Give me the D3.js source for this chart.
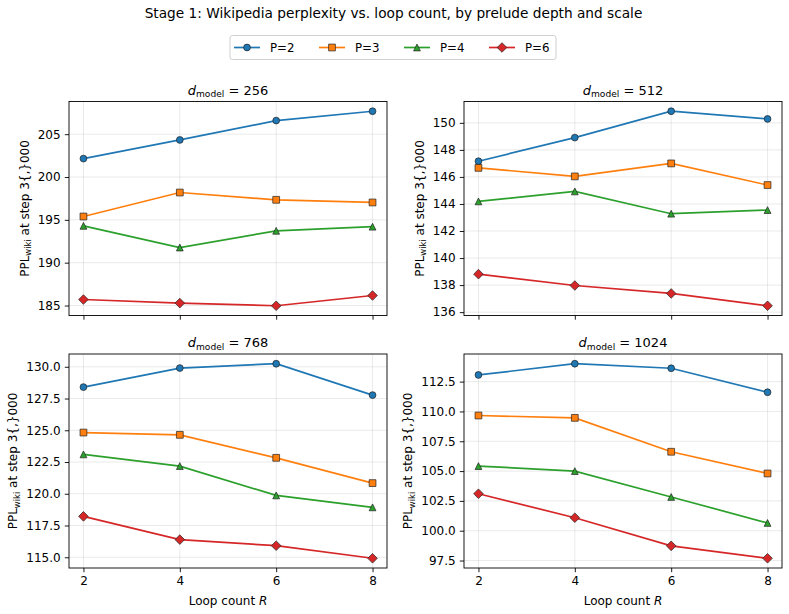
<!DOCTYPE html>
<html><head><meta charset="utf-8">
<script src="https://cdn.jsdelivr.net/npm/d3@7"></script>
<style>
body{margin:0;background:#fff}
svg text{font-family:"DejaVu Sans",sans-serif;fill:#000}
</style>
</head><body><svg id="c" width="789" height="614"></svg>
<script>
// ---- data ----
const loopCounts = [2, 4, 6, 8];
const seriesNames = ["P=2", "P=3", "P=4", "P=6"];
const seriesColors = ["#1f77b4", "#ff7f0e", "#2ca02c", "#d62728"];
const seriesMarkers = ["circle", "square", "triangle", "diamond"];
const dModels = [256, 512, 768, 1024];

const ppl256 = [
  [202.15, 204.33, 206.59, 207.68],
  [195.39, 198.19, 197.34, 197.03],
  [194.30, 191.77, 193.72, 194.20],
  [185.70, 185.28, 184.97, 186.17]
];
const ppl512 = [
  [147.16, 148.91, 150.86, 150.29],
  [146.67, 146.04, 147.00, 145.40],
  [144.19, 144.93, 143.28, 143.55],
  [138.81, 137.97, 137.38, 136.47]
];
const ppl768 = [
  [128.40, 129.90, 130.24, 127.77],
  [124.82, 124.64, 122.83, 120.84],
  [123.10, 122.18, 119.87, 118.93],
  [118.22, 116.39, 115.91, 114.92]
];
const ppl1024 = [
  [113.06, 114.00, 113.62, 111.61],
  [109.66, 109.46, 106.62, 104.80],
  [105.42, 105.00, 102.83, 100.65],
  [103.10, 101.09, 98.73, 97.69]
];
const xTicks = [2, 4, 6, 8];
const yTicks256 = [185, 190, 195, 200, 205];
const yTicks512 = [136, 138, 140, 142, 144, 146, 148, 150];
const yTicks768 = [115.0, 117.5, 120.0, 122.5, 125.0, 127.5, 130.0];
const yTicks1024 = [97.5, 100.0, 102.5, 105.0, 107.5, 110.0, 112.5];
const yTickFormats = [d3.format("d"), d3.format("d"), d3.format(".1f"), d3.format(".1f")];

const panelData = [ppl256, ppl512, ppl768, ppl1024];
const panelYTicks = [yTicks256, yTicks512, yTicks768, yTicks1024];

// ---- layout ----
const svg = d3.select("#c");
const W = 318, H = 214;
const panelPos = [
  {left: 69, top: 101.5},
  {left: 464, top: 101.5},
  {left: 69, top: 354},
  {left: 464, top: 354}
];
const FS = 12;          // tick / label font
const MS = 6.8;         // marker size
const LW = 1.7;

function markerPath(kind, s) {
  const h = s / 2;
  if (kind === "circle") {
    return d3.symbol(d3.symbolCircle, Math.PI * h * h)();
  }
  if (kind === "square") {
    return `M${-h},${-h}H${h}V${h}H${-h}Z`;
  }
  if (kind === "triangle") {
    return `M0,${-h}L${h},${h}L${-h},${h}Z`;
  }
  const d = h * Math.SQRT2;
  return `M0,${-d}L${d},0L0,${d}L${-d},0Z`;
}

// suptitle
svg.append("text").attr("x", 393.5).attr("y", 17.5).attr("text-anchor", "middle")
  .style("font-size", "13.7px")
  .text("Stage 1: Wikipedia perplexity vs. loop count, by prelude depth and scale");

// legend
const leg = svg.append("g");
leg.append("rect").attr("x", 230).attr("y", 35.5).attr("width", 326).attr("height", 24)
  .attr("rx", 2.5).attr("fill", "#fff").attr("stroke", "#d0d0d0").attr("stroke-width", 1);
const legStart = [234, 319, 404, 489];
seriesNames.forEach((nm, i) => {
  const g = leg.append("g").attr("transform", `translate(${legStart[i]},47.5)`);
  g.append("line").attr("x1", 0).attr("x2", 26).attr("stroke", seriesColors[i]).attr("stroke-width", LW);
  g.append("path").attr("d", markerPath(seriesMarkers[i], MS)).attr("transform", "translate(13,0)")
    .attr("fill", seriesColors[i]).attr("stroke", "#222").attr("stroke-width", 0.7);
  g.append("text").attr("x", 36).attr("y", 4.4).style("font-size", "11.8px").text(nm);
});

panelPos.forEach((pp, pi) => {
  const data = panelData[pi];
  const ticks = panelYTicks[pi];
  const all = data.flat();
  const mn = d3.min(all), mx = d3.max(all), pad = (mx - mn) * 0.05;
  const x = d3.scaleLinear().domain([1.7, 8.3]).range([0, W]);
  const y = d3.scaleLinear().domain([mn - pad, mx + pad]).range([H, 0]);
  const g = svg.append("g").attr("transform", `translate(${pp.left},${pp.top})`);

  // grid
  g.append("g").selectAll("line").data(xTicks).join("line")
    .attr("x1", d => x(d)).attr("x2", d => x(d)).attr("y1", 0).attr("y2", H)
    .attr("stroke", "#b0b0b0").attr("stroke-opacity", 0.3).attr("stroke-width", 0.9);
  g.append("g").selectAll("line").data(ticks).join("line")
    .attr("y1", d => y(d)).attr("y2", d => y(d)).attr("x1", 0).attr("x2", W)
    .attr("stroke", "#b0b0b0").attr("stroke-opacity", 0.3).attr("stroke-width", 0.9);

  // axes
  const isBottom = pi >= 2;
  const xAxis = d3.axisBottom(x).tickValues(xTicks).tickSize(4.2).tickPadding(4.2)
    .tickFormat(isBottom ? d3.format("d") : () => "");
  const gx = g.append("g").attr("transform", `translate(0,${H})`).call(xAxis);
  const yAxis = d3.axisLeft(y).tickValues(ticks).tickSize(4.2).tickPadding(4.2).tickFormat(yTickFormats[pi]);
  const gy = g.append("g").call(yAxis);
  [gx, gy].forEach(a => {
    a.select(".domain").remove();
    a.selectAll("line").attr("stroke", "#000").attr("stroke-width", 0.9);
    a.selectAll("text").style("font-size", FS + "px").style("font-family", "DejaVu Sans").attr("fill", "#000");
  });

  // lines + markers
  data.forEach((vals, si) => {
    const pts = loopCounts.map((r, k) => [r, vals[k]]);
    g.append("path").datum(pts)
      .attr("d", d3.line().x(d => x(d[0])).y(d => y(d[1])))
      .attr("fill", "none").attr("stroke", seriesColors[si]).attr("stroke-width", LW);
    g.append("g").selectAll("path").data(pts).join("path")
      .attr("d", markerPath(seriesMarkers[si], MS))
      .attr("transform", d => `translate(${x(d[0])},${y(d[1])})`)
      .attr("fill", seriesColors[si]).attr("stroke", "#222").attr("stroke-width", 0.7);
  });

  // frame
  g.append("rect").attr("width", W).attr("height", H).attr("fill", "none")
    .attr("stroke", "#000").attr("stroke-width", 0.9);

  // title  d_model = N
  const t = g.append("text").attr("x", W / 2).attr("y", -7).attr("text-anchor", "middle").style("font-size", "13px");
  t.append("tspan").style("font-style", "italic").text("d");
  t.append("tspan").attr("dy", 2.6).style("font-size", "9.1px").text("model");
  t.append("tspan").attr("dy", -2.6).text(" = " + dModels[pi]);

  // y label
  const bb = gy.node().getBBox();
  const lx = bb.x - 9;
  const yl = g.append("text").attr("transform", `translate(${lx},${H / 2}) rotate(-90)`)
    .attr("text-anchor", "middle").style("font-size", FS + "px");
  yl.append("tspan").text("PPL");
  yl.append("tspan").attr("dy", 2.6).style("font-size", "8.4px").text("wiki");
  yl.append("tspan").attr("dy", -2.6).text(" at step 3{,}000");

  if (isBottom) {
    const xl = g.append("text").attr("x", W / 2).attr("y", H + 36.5).attr("text-anchor", "middle").style("font-size", FS + "px");
    xl.append("tspan").text("Loop count ");
    xl.append("tspan").style("font-style", "italic").text("R");
  }
});
</script>
</body></html>
